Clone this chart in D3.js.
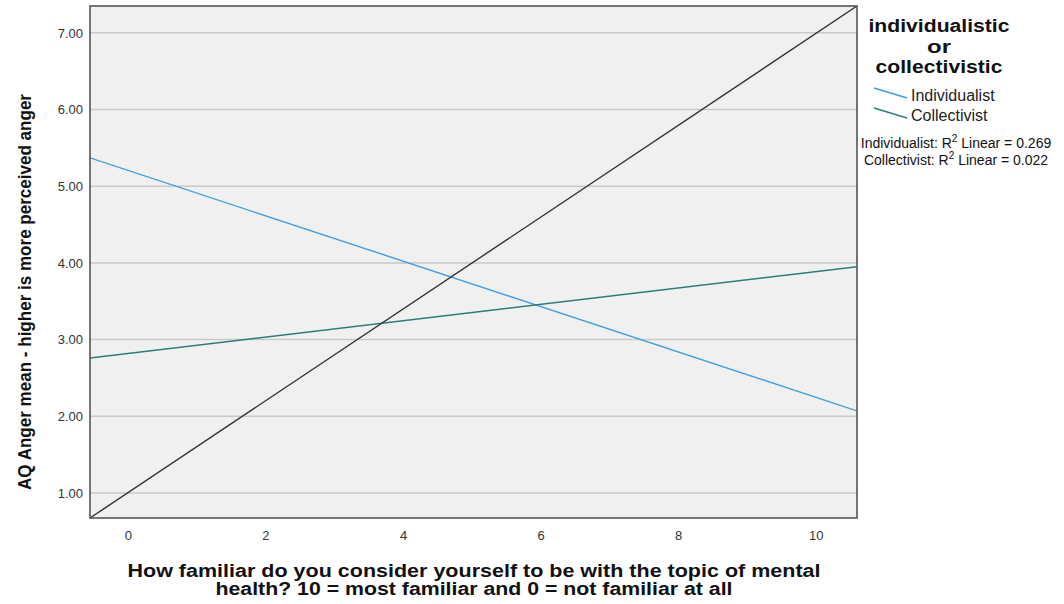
<!DOCTYPE html>
<html>
<head>
<meta charset="utf-8">
<script src="https://cdn.jsdelivr.net/npm/d3@7"></script>
<style>
  html, body { margin: 0; padding: 0; background: #fff; }
  svg { display: block; font-family: Arial, "Liberation Sans", sans-serif; }
</style>
</head>
<body>
<svg id="chart" width="1064" height="604"></svg>
<script>
// Axis extents and ticks
const xDomain = [-0.55, 10.6];
const yDomain = [0.674, 7.35];
const xTicks = [0, 2, 4, 6, 8, 10];
const yTicks = [1, 2, 3, 4, 5, 6, 7];

// Fit lines: value at the left and right edge of the x range
const groups = ["Individualist", "Collectivist"];
const groupColors = ["#3d9fe3", "#2b7d78"];
const individualistFit = [5.37, 2.07];
const collectivistFit = [2.76, 3.95];
const rSquared = ["0.269", "0.022"];

// Legend title lines
const legendTitle = ["individualistic", "or", "collectivistic"];

// Diagonal reference line, corner to corner
const referenceLine = [[xDomain[0], yDomain[0]], [xDomain[1], yDomain[1]]];

const svg = d3.select("#chart");
const plot = { left: 90, top: 6, right: 857, bottom: 518 };

const x = d3.scaleLinear().domain(xDomain).range([plot.left, plot.right]);
const y = d3.scaleLinear().domain(yDomain).range([plot.bottom, plot.top]);

// Plot background
svg.append("rect")
  .attr("x", plot.left).attr("y", plot.top)
  .attr("width", plot.right - plot.left).attr("height", plot.bottom - plot.top)
  .attr("fill", "#f0f0f0");

// Horizontal grid lines
svg.append("g").selectAll("line").data(yTicks).join("line")
  .attr("x1", plot.left).attr("x2", plot.right)
  .attr("y1", d => y(d)).attr("y2", d => y(d))
  .attr("stroke", "#c9c9c9").attr("stroke-width", 1.5);

// Axes
const yAxis = svg.append("g")
  .attr("transform", `translate(${plot.left},0)`)
  .call(d3.axisLeft(y).tickValues(yTicks).tickFormat(d3.format(".2f")).tickSize(0).tickPadding(7));
const xAxis = svg.append("g")
  .attr("transform", `translate(0,${plot.bottom})`)
  .call(d3.axisBottom(x).tickValues(xTicks).tickFormat(d3.format("d")).tickSize(0).tickPadding(13));
[yAxis, xAxis].forEach(g => {
  g.select(".domain").remove();
  g.selectAll("text").attr("font-size", 13).attr("fill", "#333")
    .attr("font-family", "Arial, 'Liberation Sans', sans-serif");
});

// Clip lines to the plot area
svg.append("clipPath").attr("id", "plotClip").append("rect")
  .attr("x", plot.left).attr("y", plot.top)
  .attr("width", plot.right - plot.left).attr("height", plot.bottom - plot.top);

const line = d3.line().x(d => x(d[0])).y(d => y(d[1]));
const lines = svg.append("g").attr("clip-path", "url(#plotClip)");

const fits = [individualistFit, collectivistFit];
fits.forEach((vals, i) => {
  lines.append("path")
    .datum([[xDomain[0], vals[0]], [xDomain[1], vals[1]]])
    .attr("d", line).attr("fill", "none")
    .attr("stroke", groupColors[i]).attr("stroke-width", 1.4);
});

lines.append("path").datum(referenceLine)
  .attr("d", line).attr("fill", "none")
  .attr("stroke", "#333").attr("stroke-width", 1.4);

// Plot frame
svg.append("rect")
  .attr("x", plot.left).attr("y", plot.top)
  .attr("width", plot.right - plot.left).attr("height", plot.bottom - plot.top)
  .attr("fill", "none").attr("stroke", "#555").attr("stroke-width", 1.6);

// Axis titles
svg.append("text")
  .attr("transform", "translate(31,292) rotate(-90)")
  .attr("text-anchor", "middle")
  .attr("font-size", 18).attr("font-weight", "bold").attr("fill", "#111")
  .attr("textLength", 396).attr("lengthAdjust", "spacingAndGlyphs")
  .text("AQ Anger mean - higher is more perceived anger");

const xTitle = svg.append("text")
  .attr("text-anchor", "middle").attr("font-size", 18)
  .attr("font-weight", "bold").attr("fill", "#111");
xTitle.append("tspan").attr("x", 474).attr("y", 577)
  .attr("textLength", 693).attr("lengthAdjust", "spacingAndGlyphs")
  .text("How familiar do you consider yourself to be with the topic of mental");
xTitle.append("tspan").attr("x", 474).attr("y", 595)
  .attr("textLength", 517).attr("lengthAdjust", "spacingAndGlyphs")
  .text("health? 10 = most familiar and 0 = not familiar at all");

// Legend
const legend = svg.append("g");
const titleWidths = [141, 24, 127];
legendTitle.forEach((t, i) => {
  legend.append("text")
    .attr("x", 939).attr("y", 32 + i * 20.5)
    .attr("text-anchor", "middle").attr("font-size", 18)
    .attr("textLength", titleWidths[i]).attr("lengthAdjust", "spacingAndGlyphs")
    .attr("font-weight", "bold").attr("fill", "#111").text(t);
});

groups.forEach((g, i) => {
  const yy = 88 + i * 20;
  legend.append("line")
    .attr("x1", 874).attr("y1", yy).attr("x2", 907).attr("y2", yy + 10)
    .attr("stroke", groupColors[i]).attr("stroke-width", 1.4);
  legend.append("text")
    .attr("x", 911).attr("y", yy + 13)
    .attr("font-size", 16).attr("fill", "#222").text(g);
});

groups.forEach((g, i) => {
  const t = legend.append("text")
    .attr("x", 956).attr("y", 148 + i * 16.5)
    .attr("text-anchor", "middle").attr("font-size", 14).attr("fill", "#111");
  t.append("tspan").text(`${g}: R`);
  t.append("tspan").attr("dy", -6).attr("font-size", 10).text("2");
  t.append("tspan").attr("dy", 6).text(` Linear = ${rSquared[i]}`);
});
</script>
</body>
</html>
